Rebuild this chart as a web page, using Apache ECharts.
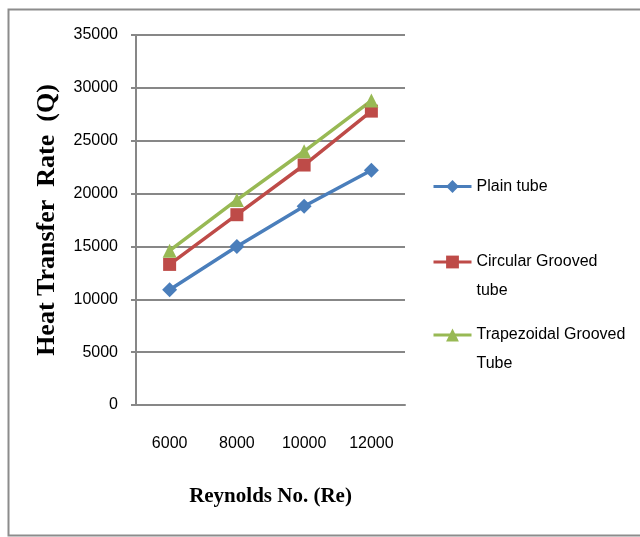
<!DOCTYPE html>
<html>
<head>
<meta charset="utf-8">
<script src="https://cdn.jsdelivr.net/npm/echarts@6/dist/echarts.min.js"></script>
<style>html,body{margin:0;padding:0;background:#fff;}#c{width:640px;height:537px;}</style>
</head>
<body>
<div id="c"></div>
<script>
var categories = ['6000', '8000', '10000', '12000'];
var plainTube = [10900, 15000, 18800, 22200];
var circularGroove = [13300, 18000, 22700, 27800];
var trapezoidalGroove = [14600, 19400, 24000, 28800];
var seriesNames = ['Plain tube', 'Circular Grooved tube', 'Trapezoidal Grooved Tube'];
var legendLabels = ['Plain tube', '\nCircular Grooved\ntube', '\nTrapezoidal Grooved\nTube'];

var colors = ['#4A7EBB', '#BE4B48', '#98B954'];
var font = '"Liberation Sans", Arial, sans-serif';
var serif = '"Liberation Serif", "Times New Roman", serif';

var chart = echarts.init(document.getElementById('c'), null, {renderer: 'canvas'});

function legendFor(i, top) {
  return {
    orient: 'vertical',
    left: 427,
    top: top,
    data: [seriesNames[i]],
    itemWidth: 38,
    itemHeight: 16,
    selectedMode: false,
    lineStyle: {width: 3},
    formatter: function () { return legendLabels[i]; },
    textStyle: {fontFamily: font, fontSize: 16, color: '#000', lineHeight: 29}
  };
}

var option = {
  animation: false,
  backgroundColor: '#fff',
  color: colors,
  graphic: [{
    type: 'rect',
    shape: {x: 8.5, y: 9.5, width: 700, height: 526},
    style: {fill: 'none', stroke: '#8c8c8c', lineWidth: 2},
    silent: true
  }],
  legend: [
    legendFor(0, 167),
    legendFor(1, 213.5),
    legendFor(2, 286.5)
  ],
  grid: {left: 136, top: 35, width: 269, height: 370, containLabel: false},
  xAxis: {
    type: 'category',
    data: categories,
    boundaryGap: true,
    axisLine: {show: true, lineStyle: {color: '#878787', width: 2}},
    axisTick: {show: false},
    axisLabel: {fontFamily: font, fontSize: 16, color: '#000', margin: 31},
    name: 'Reynolds No. (Re)',
    nameLocation: 'middle',
    nameGap: 81,
    nameTextStyle: {fontFamily: serif, fontSize: 21, fontWeight: 'bold', color: '#000'}
  },
  yAxis: {
    type: 'value',
    min: 0,
    max: 35000,
    interval: 5000,
    axisLine: {show: true, lineStyle: {color: '#878787', width: 2}},
    axisTick: {show: true, length: 5, lineStyle: {color: '#878787', width: 2}},
    splitLine: {show: true, lineStyle: {color: '#878787', width: 2}},
    axisLabel: {fontFamily: font, fontSize: 16, color: '#000', margin: 18,
      formatter: function (v) { return String(v); }},
    name: 'Heat Transfer  Rate  (Q)',
    nameLocation: 'middle',
    nameGap: 76,
    nameRotate: 90,
    nameTextStyle: {fontFamily: serif, fontSize: 26, fontWeight: 'bold', color: '#000'}
  },
  series: [
    {name: seriesNames[0], type: 'line', data: plainTube, symbol: 'diamond', symbolSize: 15,
     lineStyle: {width: 3.5, color: colors[0]}, itemStyle: {color: colors[0]}},
    {name: seriesNames[1], type: 'line', data: circularGroove, symbol: 'rect', symbolSize: 13,
     lineStyle: {width: 3.5, color: colors[1]}, itemStyle: {color: colors[1]}},
    {name: seriesNames[2], type: 'line', data: trapezoidalGroove, symbol: 'triangle', symbolSize: 14,
     lineStyle: {width: 3.5, color: colors[2]}, itemStyle: {color: colors[2]}}
  ]
};
chart.setOption(option);
</script>
</body>
</html>
